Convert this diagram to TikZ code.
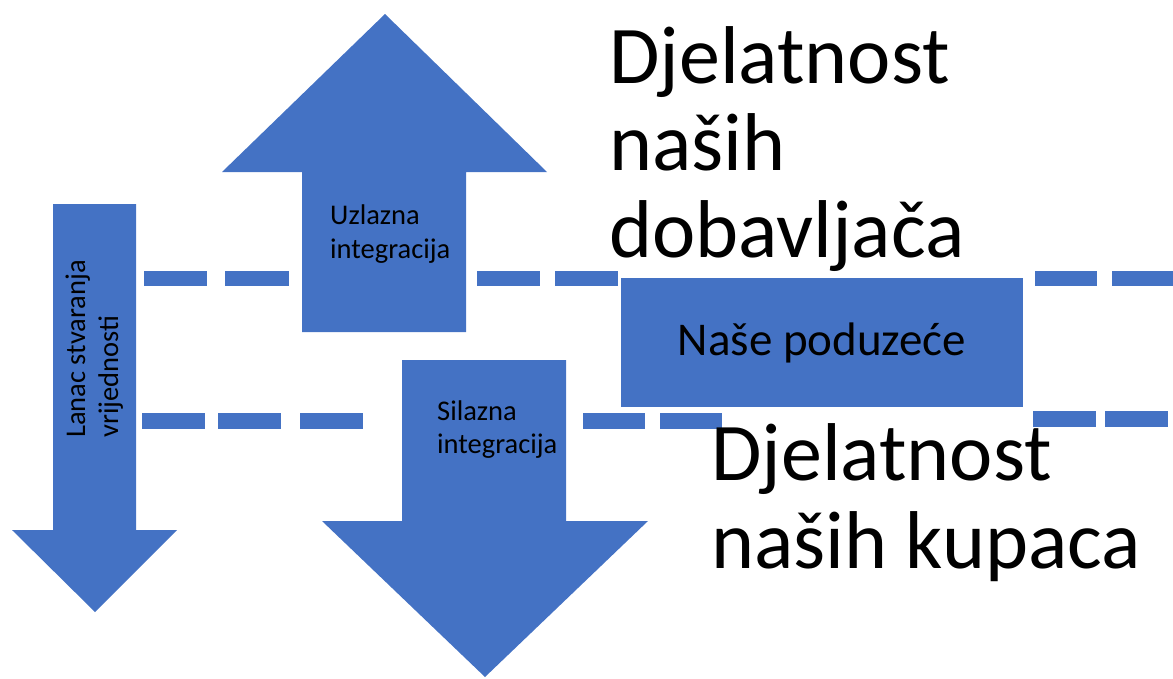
\documentclass[tikz,border=0pt]{standalone}
\usepackage{fontspec}
\setmainfont{Carlito}
\definecolor{offblue}{HTML}{4472C4}
\begin{document}
\begin{tikzpicture}[x=1pt,y=-1pt,
  shapefill/.style={fill=offblue,draw=none},
  dashbar/.style={fill=offblue,draw=none},
  smalltxt/.style={inner sep=0pt,anchor=base west,font=\fontsize{28.5}{33}\selectfont},
  bigtxt/.style={inner sep=0pt,anchor=base west,font=\fontsize{82}{88}\selectfont},
  boxtxt/.style={fill=offblue,draw=none,minimum width=402pt,minimum height=129pt,inner sep=0pt,font=\fontsize{47}{50}\selectfont}]
\useasboundingbox (0,0) rectangle (1173,678);
% arrows
\fill[shapefill] (53,204) -- (136,204) -- (136,530) -- (177,530) -- (95,612) -- (12,530) -- (53,530) -- cycle;
\fill[shapefill] (302,332) -- (466,332) -- (466,172) -- (547,172) -- (385,14) -- (222,172) -- (302,172) -- cycle;
\fill[shapefill] (402,360) -- (566,360) -- (566,521) -- (648,521) -- (485,677) -- (322,521) -- (402,521) -- cycle;
% dashed line 1
\foreach \a/\b in {144/207,225/289,477/540,555/618,1035/1097,1112/1173}
  \fill[dashbar] (\a,271) rectangle (\b,286);
% dashed line 2
\foreach \a/\b in {142/205,218/281,300/363,583/645,660/722}
  \fill[dashbar] (\a,413) rectangle (\b,429);
\foreach \a/\b in {1033/1096,1105/1168}
  \fill[dashbar] (\a,411) rectangle (\b,427);
% company box
\node[boxtxt] (firma) at (822,342.5) {Naše poduzeće};
% labels
\node[smalltxt] (uz1) at (330,224) {Uzlazna};
\node[smalltxt] (uz2) at (330,258) {integracija};
\node[smalltxt] (si1) at (437,420) {Silazna};
\node[smalltxt] (si2) at (437,453) {integracija};
\node[smalltxt,rotate=90] (lan1) at (85,438) {Lanac stvaranja};
\node[smalltxt,rotate=90] (lan2) at (118,438) {vrijednosti};
\node[bigtxt] (dob1) at (609,83) {Djelatnost};
\node[bigtxt] (dob2) at (609,170) {naših};
\node[bigtxt] (dob3) at (609,257) {dobavljača};
\node[bigtxt] (kup1) at (711,480) {Djelatnost};
\node[bigtxt] (kup2) at (711,568) {naših kupaca};
\end{tikzpicture}
\end{document}
